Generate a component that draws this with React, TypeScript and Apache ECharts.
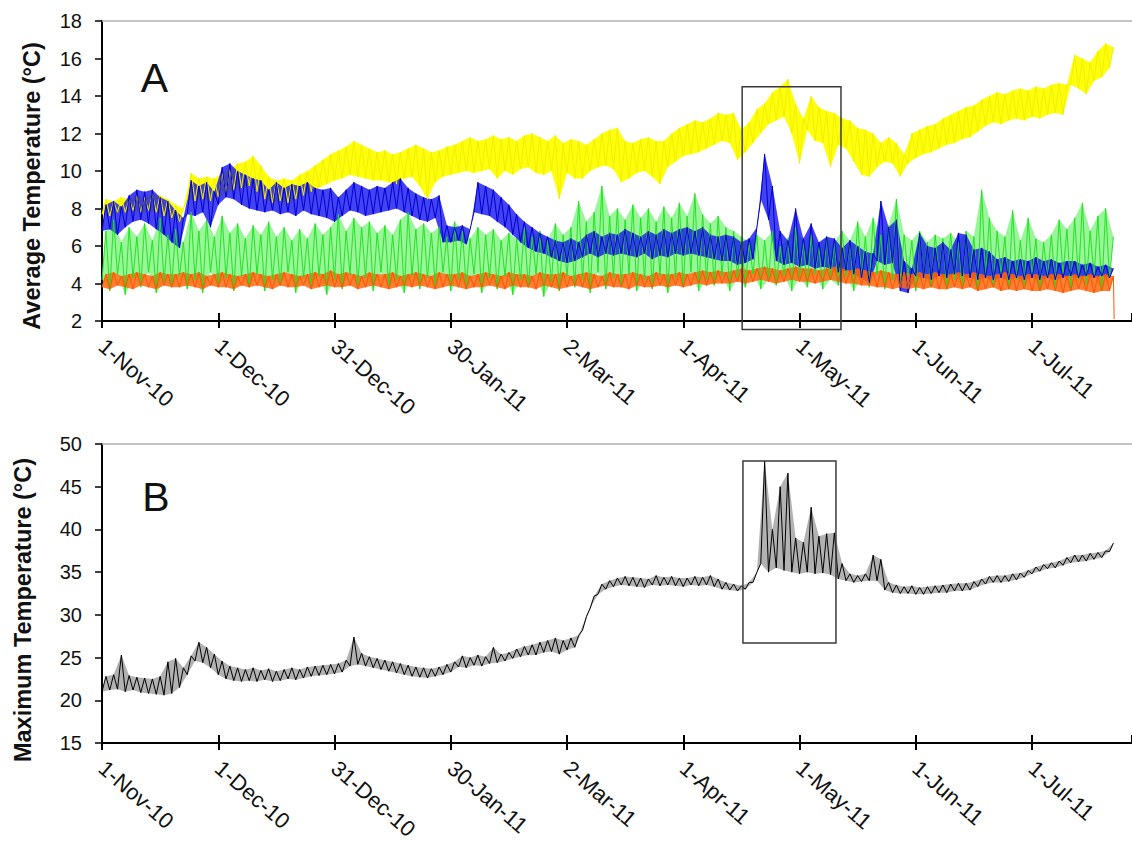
import React, { useEffect, useRef } from "react";
import * as echarts from "echarts";

// Days since 1-Nov-10; envelope samples every STEP days (lo at day 2k, hi at day 2k+1)
const STEP = 2;
const tickLabels = ["1-Nov-10", "1-Dec-10", "31-Dec-10", "30-Jan-11", "2-Mar-11", "1-Apr-11", "1-May-11", "1-Jun-11", "1-Jul-11"];

const yellowHi = [
  8.5, 8.4, 8.6, 8.5, 8.7, 8.6, 8.8, 8.7, 8.5, 8.2,
  8.0, 9.9, 9.6, 9.7, 9.6, 9.9, 10.1, 10.4, 10.5, 10.8,
  10.3, 9.7, 9.5, 9.6, 9.5, 9.8, 10.0, 10.3, 10.6, 10.9,
  11.1, 11.3, 11.6, 11.4, 11.2, 11.0, 11.1, 10.9, 11.0, 11.2,
  11.4, 11.2, 11.0, 11.1, 11.3, 11.4, 11.6, 11.8, 11.6, 11.7,
  11.9, 11.7, 11.8, 11.6, 11.9, 12.0, 11.8, 11.6, 11.9, 11.5,
  11.7, 11.6, 11.4, 11.7, 12.0, 12.2, 12.3, 11.6, 11.5, 11.7,
  11.8, 11.6, 11.6, 12.0, 12.3, 12.5, 12.7, 12.6, 12.8, 13.1,
  13.0, 13.1, 12.2, 12.6, 13.3, 13.6, 14.2, 14.5, 14.9, 13.6,
  12.8, 14.0, 13.4, 13.2, 13.1, 12.8, 12.7, 12.3, 12.2, 12.0,
  11.5, 11.8, 11.5, 10.9, 12.0, 12.2, 12.4, 12.5, 12.8, 13.0,
  13.2, 13.4, 13.5, 13.8, 14.0, 14.2, 14.1, 14.3, 14.4, 14.3,
  14.5, 14.4, 14.6, 14.7, 14.6, 16.2, 16.0, 15.8, 16.4, 16.8,
  16.6,
];
const yellowLo = [
  7.7, 7.6, 7.8, 7.8, 7.9, 7.8, 7.9, 7.8, 7.6, 7.5,
  7.3, 8.5, 8.4, 8.5, 8.4, 8.6, 8.8, 9.0, 9.1, 9.2,
  8.9, 8.5, 8.3, 8.4, 8.3, 8.5, 8.7, 8.9, 9.1, 9.3,
  9.5, 9.6, 9.8, 9.7, 9.6, 9.5, 9.5, 9.4, 9.3, 9.6,
  9.7, 9.2, 8.5, 9.4, 9.7, 9.8, 9.9, 10.0, 9.9, 10.0,
  10.1, 9.6, 10.0, 9.8, 10.1, 10.2, 9.9, 9.8, 10.0, 8.5,
  9.9, 9.6, 9.6, 10.0, 10.2, 10.3, 10.1, 9.4, 9.6, 9.9,
  10.0, 9.7, 9.3, 10.2, 10.5, 10.8, 10.9, 11.0, 11.2, 11.4,
  11.6, 11.5, 10.6, 11.0, 11.5, 12.0, 12.5, 12.7, 12.9, 12.0,
  10.4, 12.2, 11.6, 11.5, 10.2, 11.4, 11.2, 10.5, 9.8, 9.7,
  10.2, 10.5, 10.4, 9.7, 10.4, 10.7, 10.9, 11.0, 11.2, 11.4,
  11.5, 11.7, 11.8, 12.1, 12.4, 12.6, 12.5, 12.7, 12.8, 12.7,
  12.9, 12.8, 13.0, 13.1, 13.0, 14.6, 14.4, 14.1, 14.8, 15.0,
  15.5,
];

const blueHi = [
  8.2, 8.4, 8.1, 8.7, 9.0, 8.9, 9.0, 8.6, 8.4, 7.9,
  7.5, 9.5, 9.2, 9.4, 8.9, 10.2, 10.4, 10.0, 9.8, 9.6,
  9.5, 9.0, 9.4, 9.1, 9.3, 9.2, 9.4, 9.1, 9.0, 9.1,
  8.6, 9.0, 9.4, 9.2, 9.0, 9.2, 9.1, 9.4, 9.6, 9.1,
  8.8, 8.6, 8.5, 8.7, 7.1, 7.0, 7.1, 6.9, 9.4, 9.2,
  9.0, 8.6, 8.2, 7.7, 7.3, 7.0, 6.7, 6.5, 6.3, 6.2,
  6.4, 6.2, 6.6, 6.8, 6.5, 6.7, 6.6, 6.9, 6.7, 6.5,
  6.8, 6.6, 6.9, 6.7, 6.9, 7.0, 6.8, 7.0, 6.6, 6.5,
  6.6, 6.5, 6.2, 6.4, 7.0, 10.9, 9.2, 6.8, 6.3, 8.0,
  6.4, 7.2, 6.2, 6.5, 6.4, 5.9, 6.3, 6.0, 5.7, 5.6,
  8.4, 7.0, 7.4, 5.2, 4.8, 6.7, 6.0, 5.9, 6.2, 5.8,
  6.7, 6.6, 5.8, 5.9, 5.7, 5.3, 5.4, 5.2, 5.3, 5.2,
  5.4, 5.2, 5.3, 5.1, 5.2, 5.2, 5.0, 5.1, 4.9, 5.0,
  4.8,
];
const blueLo = [
  6.8, 6.9, 6.6, 7.0, 7.3, 7.4, 7.2, 6.9, 6.6, 6.2,
  5.9, 7.7, 7.6, 7.8, 7.0, 8.2, 8.6, 8.5, 8.2, 8.0,
  7.9, 7.8, 7.9, 7.7, 7.8, 7.6, 7.9, 7.7, 7.6, 7.5,
  7.3, 7.6, 7.9, 7.8, 7.6, 7.7, 7.8, 7.9, 8.0, 7.8,
  7.6, 7.4, 7.3, 7.5, 6.2, 6.2, 6.3, 6.1, 7.8, 7.7,
  7.6, 7.3, 7.0, 6.6, 6.2, 5.9, 5.7, 5.6, 5.4, 5.2,
  5.1, 5.2, 5.4, 5.6, 5.4, 5.6, 5.5, 5.6, 5.5, 5.4,
  5.6, 5.3, 5.5, 5.4, 5.6, 5.5, 5.6, 5.5, 5.4, 5.3,
  5.2, 5.2, 5.0, 5.1, 5.3, 8.5, 7.4, 5.2, 5.0, 5.1,
  4.9, 5.0, 4.8, 4.9, 4.8, 4.6, 4.7, 4.5, 4.3, 4.0,
  5.2, 5.0, 5.1, 3.6, 3.5, 4.4, 4.3, 4.2, 4.4, 4.3,
  4.5, 4.4, 4.3, 4.2, 4.3, 4.2, 4.3, 4.2, 4.3, 4.2,
  4.3, 4.2, 4.3, 4.2, 4.3, 4.4, 4.3, 4.4, 4.3, 4.4,
  4.3,
];

const greenHi = [
  6.8, 7.4, 6.2, 7.0, 6.5, 7.2, 6.3, 7.5, 6.6, 6.9,
  6.2, 7.8, 6.8, 7.4, 6.5, 7.6, 6.7, 7.2, 6.4, 7.1,
  6.6, 7.3, 6.5, 7.0, 6.3, 6.9, 6.4, 7.2, 6.6, 7.0,
  7.7, 6.8, 7.5, 7.0, 7.3, 6.7, 7.1, 6.6, 7.4, 7.8,
  6.9, 7.2, 6.7, 7.0, 6.5, 7.3, 6.8, 6.4, 7.0, 6.6,
  6.9, 6.3, 6.7, 6.4, 7.0, 6.5, 6.8, 6.3, 7.2, 6.6,
  7.0, 8.4, 7.3, 7.8, 9.2, 7.6, 8.0, 7.4, 8.2, 7.5,
  8.0, 7.3, 8.1, 7.5, 8.3, 7.6, 8.8, 7.7, 7.2, 7.6,
  7.0, 6.8, 6.5, 6.2, 6.6, 6.3, 6.8, 6.0, 6.4, 7.0,
  6.2, 6.6, 6.0, 6.5, 6.2, 6.8, 6.3, 7.3, 6.5, 7.5,
  6.6, 7.1, 8.5, 6.6, 6.3, 6.8, 6.2, 6.6, 6.4, 6.7,
  6.2, 6.8, 6.5, 9.0, 7.5, 6.8, 6.5, 7.9, 6.3, 7.5,
  6.4, 6.2, 6.6, 7.4, 6.9, 7.5, 8.3, 6.8, 7.6, 8.0,
  6.5,
];
const greenLo = [
  4.2, 3.6, 4.5, 3.4, 4.3, 3.8, 4.6, 3.5, 4.1, 3.9,
  4.4, 3.7, 4.2, 3.5, 4.6, 3.9, 4.3, 3.6, 4.4, 3.8,
  4.5, 3.6, 4.2, 3.9, 4.6, 3.5, 4.3, 3.8, 4.4, 3.4,
  4.2, 3.7, 4.5, 3.9, 4.3, 3.6, 4.6, 3.8, 4.2, 3.5,
  4.4, 3.7, 4.3, 3.9, 4.6, 3.6, 4.2, 3.8, 4.5, 3.5,
  4.3, 3.7, 4.4, 3.4, 4.2, 3.8, 4.5, 3.3, 4.1, 3.6,
  4.4, 3.8, 4.2, 3.5, 4.6, 3.7, 4.3, 3.9, 4.5, 3.6,
  4.2, 3.7, 4.4, 3.5, 4.3, 3.8, 4.6, 3.6, 4.2, 3.9,
  4.4, 3.6, 4.3, 3.8, 4.5, 3.7, 4.2, 3.9, 4.4, 3.6,
  4.3, 3.8, 4.5, 3.7, 4.2, 3.9, 4.4, 3.6, 4.3, 3.8,
  4.5, 3.7, 4.2, 3.9, 4.4, 3.6, 4.3, 3.8, 4.5, 3.7,
  4.2, 3.9, 4.4, 3.6, 4.3, 3.8, 4.5, 3.7, 4.2, 3.9,
  4.4, 3.6, 4.3, 3.8, 4.5, 3.7, 4.2, 3.9, 4.4, 3.6,
  4.3,
];

const orangeHi = [
  4.5, 4.6, 4.4, 4.5, 4.6, 4.5, 4.4, 4.6, 4.5, 4.5,
  4.6, 4.5, 4.6, 4.4, 4.5, 4.6, 4.5, 4.4, 4.5, 4.6,
  4.5, 4.4, 4.5, 4.6, 4.5, 4.4, 4.5, 4.6, 4.5, 4.7,
  4.5, 4.6, 4.5, 4.4, 4.6, 4.5, 4.5, 4.6, 4.4, 4.5,
  4.6, 4.5, 4.4, 4.6, 4.5, 4.5, 4.6, 4.4, 4.5, 4.6,
  4.5, 4.4, 4.6, 4.5, 4.5, 4.4, 4.6, 4.5, 4.5, 4.6,
  4.4, 4.5, 4.6, 4.5, 4.4, 4.6, 4.5, 4.5, 4.6, 4.5,
  4.4, 4.6, 4.5, 4.5, 4.6, 4.5, 4.6, 4.7, 4.6, 4.7,
  4.6, 4.7, 4.8, 4.7, 4.8, 4.9, 4.8, 4.7, 4.8, 4.9,
  4.8, 4.8, 4.7, 4.8, 4.9, 4.8, 4.7, 4.8, 4.7, 4.6,
  4.7, 4.6, 4.5, 4.6, 4.5, 4.6, 4.5, 4.6, 4.5, 4.5,
  4.6, 4.5, 4.6, 4.5, 4.4, 4.5, 4.6, 4.5, 4.4, 4.5,
  4.5, 4.4, 4.5, 4.5, 4.4, 4.5, 4.4, 4.5, 4.4, 4.5,
  4.4,
];
const orangeLo = [
  3.8, 3.7, 3.9, 3.8, 3.7, 3.9, 3.8, 3.7, 3.9, 3.8,
  3.8, 3.9, 3.8, 3.7, 3.9, 3.8, 3.8, 3.7, 3.9, 3.8,
  3.9, 3.8, 3.7, 3.9, 3.8, 3.8, 3.9, 3.7, 3.8, 3.9,
  3.8, 3.8, 3.9, 3.7, 3.8, 3.9, 3.8, 3.7, 3.8, 3.9,
  3.8, 3.9, 3.8, 3.7, 3.8, 3.9, 3.8, 3.7, 3.8, 3.8,
  3.9, 3.8, 3.7, 3.9, 3.8, 3.8, 3.7, 3.9, 3.8, 3.7,
  3.8, 3.9, 3.8, 3.7, 3.8, 3.9, 3.8, 3.8, 3.7, 3.9,
  3.8, 3.8, 3.9, 3.8, 3.9, 3.8, 3.9, 4.0, 3.9, 4.0,
  4.0, 4.0, 4.1, 4.0, 4.1, 4.2, 4.1, 4.0, 4.1, 4.2,
  4.1, 4.1, 4.0, 4.1, 4.2, 4.1, 4.0, 4.0, 3.9, 3.9,
  3.8, 3.8, 3.7, 3.8, 3.7, 3.8, 3.7, 3.8, 3.7, 3.7,
  3.8, 3.7, 3.8, 3.6, 3.7, 3.8, 3.6, 3.7, 3.6, 3.7,
  3.6, 3.6, 3.7, 3.6, 3.5, 3.6, 3.7, 3.6, 3.5, 3.6,
  3.6,
];
const orangeTail = [261.2, 2.1]; // final logger drop [day, °C]

const blackHi = [
  22.8, 23.0, 25.3, 22.9, 22.7, 22.6, 22.5, 22.8, 24.5, 24.9,
  23.8, 25.2, 26.8, 26.2, 25.4, 24.6, 24.0, 23.8, 23.6, 23.8,
  23.5, 23.7, 23.4, 23.6, 23.8, 23.6, 23.9, 24.0, 24.1, 24.2,
  24.3, 24.7, 27.4, 25.5, 25.1, 24.9, 24.7, 24.5, 24.3, 24.1,
  23.9, 23.8, 23.7, 23.9, 24.2, 24.5, 25.2, 25.0, 25.3, 25.1,
  26.2, 25.4, 25.6, 26.0, 26.3, 26.5, 26.8, 27.0, 27.3, 27.0,
  27.3, 27.6, 29.8, 32.2, 33.6, 34.0, 34.3, 34.5, 34.4, 34.3,
  34.2, 34.6, 34.4, 34.5, 34.3, 34.3, 34.5, 34.4, 34.6, 34.2,
  33.8, 33.6, 33.4, 33.8, 35.0, 48.0, 40.0, 45.0, 46.6, 39.0,
  38.5, 42.6, 39.2, 39.5, 39.6, 36.0, 34.8, 34.6, 34.8, 37.0,
  36.5, 33.8, 33.5, 33.3, 33.4, 33.2, 33.3, 33.4, 33.5, 33.6,
  33.7, 33.7, 33.9, 34.2, 34.5, 34.6, 34.6, 34.8, 34.9, 35.2,
  35.6, 35.9, 36.1, 36.3, 36.7, 37.0, 37.0, 37.2, 37.3, 37.5,
  38.4,
];
const blackLo = [
  21.0, 21.2, 21.3, 21.0, 21.2, 20.9, 20.8, 20.7, 20.6, 20.8,
  21.5, 23.0, 24.6, 24.4, 23.8, 23.0, 22.5, 22.3, 22.2, 22.3,
  22.2, 22.4, 22.2, 22.3, 22.5, 22.4, 22.6, 22.8, 22.9, 23.0,
  23.1, 23.3, 24.0, 24.2, 24.0, 23.8, 23.6, 23.4, 23.2, 23.0,
  22.8, 22.7, 22.6, 22.8, 23.0, 23.3, 23.9, 23.8, 24.1, 24.0,
  24.3, 24.4, 24.6, 24.9, 25.1, 25.3, 25.3, 25.6, 25.7, 25.4,
  25.9, 26.2, 28.2, 30.8, 32.4, 33.0, 33.3, 33.5, 33.4, 33.3,
  33.2, 33.5, 33.4, 33.5, 33.4, 33.3, 33.5, 33.4, 33.5, 33.3,
  33.0, 32.9, 32.8, 33.0, 33.8, 36.0, 35.0, 35.5, 35.2, 35.0,
  34.8, 35.0, 34.8, 34.9, 34.7, 34.2, 34.0, 33.8, 33.9, 34.0,
  34.0, 32.9, 32.6, 32.5, 32.5, 32.4, 32.4, 32.5, 32.6, 32.6,
  32.8, 32.8, 32.9, 33.3, 33.6, 33.8, 33.8, 33.9, 34.1, 34.4,
  34.8, 35.1, 35.4, 35.5, 35.8, 36.1, 36.2, 36.3, 36.5, 36.7,
  37.4,
];

// Highlight boxes: [dayStart, top °C, dayEnd, bottom °C]
const boxA = [165.2, 14.5, 190.7, 1.55];
const boxB = [165.4, 48.0, 189.4, 26.7];

const FONT = "'Liberation Sans', Arial, sans-serif";
const X_MAX = 265.8;

function zigzag(lo: number[], hi: number[]) {
  const pts: number[][] = [];
  for (let k = 0; k < lo.length; k++) {
    pts.push([k * STEP, lo[k]]);
    pts.push([k * STEP + 1, hi[k]]);
  }
  return pts;
}

function band(lo: number[], hi: number[], color: string, opacity: number, ai: number) {
  return {
    type: "custom",
    xAxisIndex: ai * 3,
    yAxisIndex: ai,
    silent: true,
    clip: true,
    data: [[0, lo[0]]],
    encode: { x: 0, y: 1 },
    renderItem: (_p: any, api: any) => {
      const pts: number[][] = [];
      for (let k = 0; k < lo.length; k++) pts.push(api.coord([k * STEP, lo[k]]));
      for (let k = hi.length - 1; k >= 0; k--) pts.push(api.coord([k * STEP + 1, hi[k]]));
      return { type: "polygon", shape: { points: pts }, style: { fill: color, opacity } };
    },
  };
}

function line(data: number[][], color: string, width: number, ai: number, opacity = 1) {
  return {
    type: "line",
    xAxisIndex: ai * 3,
    yAxisIndex: ai,
    data,
    symbol: "none",
    showSymbol: false,
    silent: true,
    lineStyle: { color, width, opacity },
  };
}

function boxSeries(b: number[], ai: number) {
  return {
    type: "custom",
    xAxisIndex: ai * 3,
    yAxisIndex: ai,
    silent: true,
    clip: false,
    z: 10,
    data: [b],
    encode: { x: [0, 2], y: [1, 3] },
    renderItem: (_p: any, api: any) => {
      const a = api.coord([api.value(0), api.value(1)]);
      const c = api.coord([api.value(2), api.value(3)]);
      return {
        type: "rect",
        shape: { x: a[0], y: a[1], width: c[0] - a[0], height: c[1] - a[1] },
        style: { fill: "none", stroke: "#3a3a3a", lineWidth: 1.5 },
      };
    },
  };
}

function xAxes(gi: number) {
  const base = { type: "value", gridIndex: gi, min: 0, max: X_MAX, interval: 30, splitLine: { show: false } };
  return [
    {
      ...base,
      position: "bottom",
      axisLine: { show: true, onZero: false, lineStyle: { color: "#000", width: 2 } },
      axisTick: { show: true, inside: false, length: 7, lineStyle: { color: "#000", width: 2 } },
      axisLabel: {
        show: true,
        rotate: -41,
        margin: 22,
        fontSize: 22,
        fontFamily: FONT,
        color: "#111",
        showMaxLabel: false,
        formatter: (v: number) => tickLabels[Math.round(v / 30)] ?? "",
      },
    },
    {
      ...base,
      position: "bottom",
      axisLine: { show: false, onZero: false },
      axisTick: { show: true, inside: true, length: 8, lineStyle: { color: "#000", width: 2 } },
      axisLabel: { show: false },
    },
    {
      ...base,
      position: "top",
      axisLine: { show: true, onZero: false, lineStyle: { color: "#b0b0b0", width: 1.5 } },
      axisTick: { show: false },
      axisLabel: { show: false },
    },
  ];
}

function yAxis(gi: number, min: number, max: number, interval: number) {
  return {
    type: "value",
    gridIndex: gi,
    min,
    max,
    interval,
    splitLine: { show: false },
    axisLine: { show: true, onZero: false, lineStyle: { color: "#000", width: 2 } },
    axisTick: { show: true, inside: false, length: 7, lineStyle: { color: "#000", width: 1.5 } },
    axisLabel: { margin: 20, fontSize: 20, fontFamily: FONT, color: "#111" },
  };
}

export default function App() {
  const ref = useRef<HTMLDivElement>(null);
  useEffect(() => {
    if (!ref.current) return;
    const chart = echarts.init(ref.current, undefined, { renderer: "svg" });
    const orangeData = zigzag(orangeLo, orangeHi);
    orangeData.push(orangeTail);
    chart.setOption({
      animation: false,
      backgroundColor: "#fff",
      grid: [
        { left: 102, top: 21, width: 1030, height: 300 },
        { left: 102, top: 444, width: 1030, height: 299 },
      ],
      xAxis: [...xAxes(0), ...xAxes(1)],
      yAxis: [yAxis(0, 2, 18, 2), yAxis(1, 15, 50, 5)],
      series: [
        band(yellowLo, yellowHi, "#ffff00", 0.95, 0),
        line(zigzag(yellowLo, yellowHi), "#f0f000", 1, 0),
        band(greenLo, greenHi, "#33ee33", 0.5, 0),
        line(zigzag(greenLo, greenHi), "#1fe01f", 1, 0, 0.95),
        band(blueLo, blueHi, "#1414f0", 0.8, 0),
        line(zigzag(blueLo, blueHi), "#0000d0", 1, 0),
        band(orangeLo, orangeHi, "#ff6a10", 0.85, 0),
        line(orangeData, "#ff5500", 1, 0),
        boxSeries(boxA, 0),
        band(blackLo, blackHi, "#222", 0.35, 1),
        line(zigzag(blackLo, blackHi), "#000", 1, 1),
        boxSeries(boxB, 1),
      ],
      graphic: [
        {
          type: "text",
          x: 31.5,
          y: 186,
          rotation: Math.PI / 2,
          style: {
            text: "Average Temperature (°C)",
            font: `bold 23.5px ${FONT}`,
            fill: "#111",
            align: "center",
            verticalAlign: "middle",
            textAlign: "center",
            textVerticalAlign: "middle",
          },
        },
        {
          type: "text",
          x: 22.5,
          y: 610,
          rotation: Math.PI / 2,
          style: {
            text: "Maximum Temperature (°C)",
            font: `bold 23.5px ${FONT}`,
            fill: "#111",
            align: "center",
            verticalAlign: "middle",
            textAlign: "center",
            textVerticalAlign: "middle",
          },
        },
        {
          type: "text",
          x: 154.5,
          y: 78,
          style: { text: "A", font: `41px ${FONT}`, fill: "#111", align: "center", verticalAlign: "middle", textAlign: "center", textVerticalAlign: "middle" },
        },
        {
          type: "text",
          x: 156,
          y: 497,
          style: { text: "B", font: `41px ${FONT}`, fill: "#111", align: "center", verticalAlign: "middle", textAlign: "center", textVerticalAlign: "middle" },
        },
      ],
    });
    return () => chart.dispose();
  }, []);
  return <div ref={ref} style={{ position: "absolute", left: 0, top: 0, width: 1132, height: 848 }} />;
}
